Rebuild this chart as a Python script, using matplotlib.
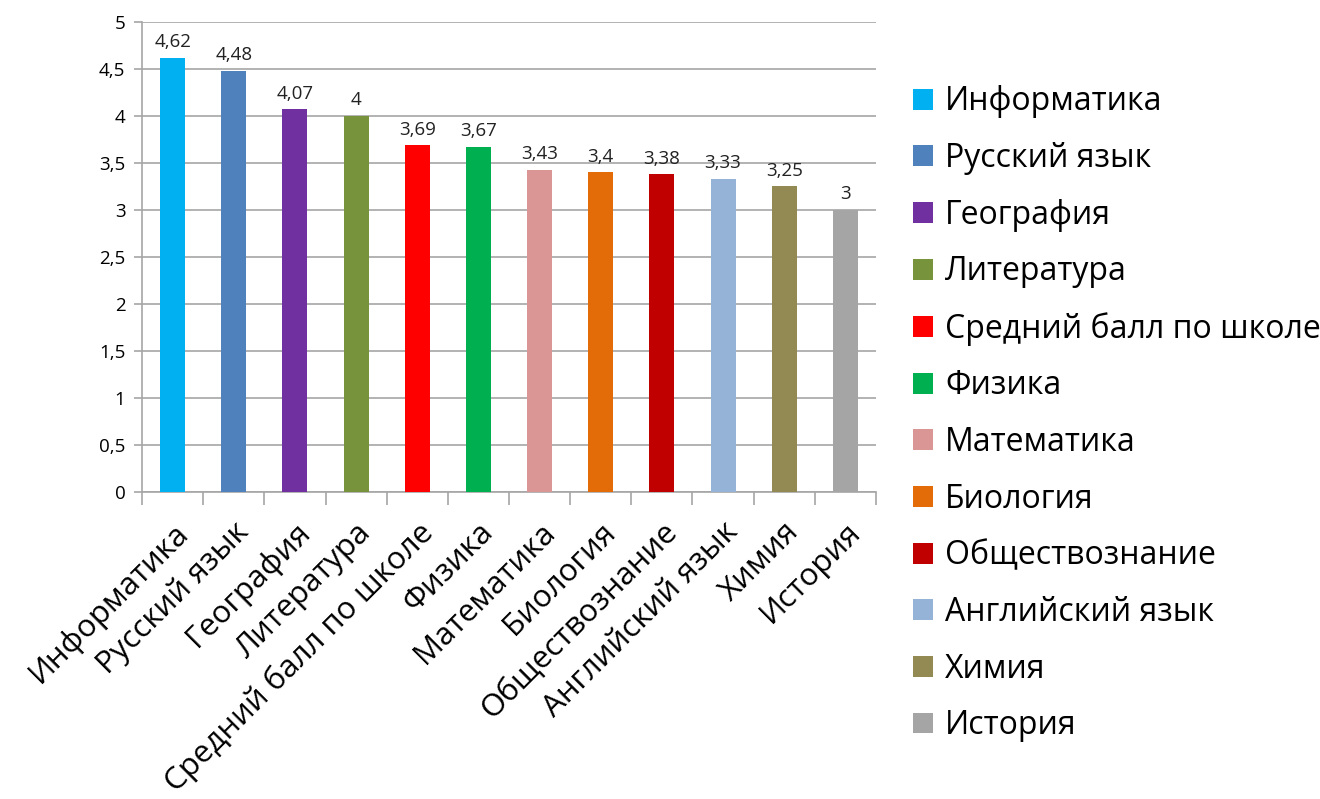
import matplotlib
matplotlib.use("Agg")
import matplotlib.pyplot as plt
from matplotlib.patches import Patch

plt.rcParams['font.family'] = ['Open Sans', 'DejaVu Sans']

# данные
predmety = ["Информатика", "Русский язык", "География", "Литература",
            "Средний балл по школе", "Физика", "Математика", "Биология",
            "Обществознание", "Английский язык", "Химия", "История"]
bally = [4.62, 4.48, 4.07, 4.0, 3.69, 3.67, 3.43, 3.4, 3.38, 3.33, 3.25, 3.0]
cveta = ["#00B0F0", "#4F81BD", "#7030A0", "#77933C", "#FF0000", "#00B050",
         "#D99694", "#E36C09", "#C00000", "#95B3D7", "#938953", "#A5A5A5"]
yticks = [0, 0.5, 1, 1.5, 2, 2.5, 3, 3.5, 4, 4.5, 5]


def fmt(v):
    # запятая вместо точки
    s = ("%g" % v)
    return s.replace(".", ",")


fig = plt.figure(figsize=(13.2, 7.99), dpi=100)
ax = fig.add_axes([0.1076, 0.3842, 0.5560, 0.5883])

x = list(range(len(predmety)))
bars = ax.bar(x, bally, width=0.41, color=cveta, zorder=3)

for xi, v in zip(x, bally):
    ax.text(xi, v + 0.07, fmt(v), ha="center", va="bottom", fontsize=13.5,
            color="#222222")

ax.set_xlim(-0.5, len(predmety) - 0.5)
ax.set_ylim(0, 5)
ax.set_yticks(yticks)
ax.set_yticklabels([fmt(t) for t in yticks], fontsize=13.5)
ax.yaxis.grid(True, color="#A6A6A6", linewidth=1.2, zorder=0)

# метки между категориями
ax.set_xticks([i - 0.5 for i in range(len(predmety) + 1)])
ax.set_xticklabels([])
ax.set_xticks(x, minor=True)
ax.set_xticklabels(predmety, minor=True, rotation=45, ha="right",
                   rotation_mode="anchor", fontsize=22.5)
ax.tick_params(axis="x", which="major", length=9, color="#A6A6A6", width=1.2)
ax.tick_params(axis="x", which="minor", length=0, pad=18)
ax.tick_params(axis="y", length=6, color="#A6A6A6", width=1.2, pad=6)

for s in ["top", "right"]:
    ax.spines[s].set_visible(False)
for s in ["left", "bottom"]:
    ax.spines[s].set_color("#A6A6A6")
    ax.spines[s].set_linewidth(1.2)

handles = [Patch(facecolor=c, label=p) for c, p in zip(cveta, predmety)]
fig.legend(handles=handles, loc="upper left", bbox_to_anchor=(0.6917, 0.893),
           frameon=False, fontsize=23, handlelength=0.625, handleheight=0.625,
           handletextpad=0.375, labelspacing=0.74, borderpad=0,
           borderaxespad=0)

fig.savefig("out.png", dpi=100)
